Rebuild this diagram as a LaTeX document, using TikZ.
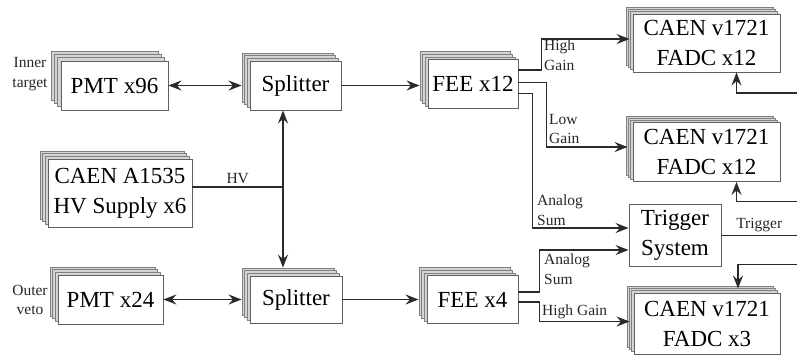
\documentclass[tikz,border=0pt]{standalone}
\usepackage{fontspec}
\setmainfont{Liberation Serif}
\usetikzlibrary{arrows.meta,shadows,calc}
\definecolor{wirec}{HTML}{2A2A2A}
\definecolor{bord}{HTML}{606060}
\definecolor{backc}{HTML}{D4D4D4}
\tikzset{
  box/.style={draw=bord, fill=white, line width=0.9pt, inner sep=0pt, align=center,
    font=\fontsize{23}{30}\selectfont},
  stk/.style={box,
    general shadow={shadow xshift=-3*#1, shadow yshift=3*#1, fill=backc, draw=bord!80, line width=0.7pt},
    general shadow={shadow xshift=-2*#1, shadow yshift=2*#1, fill=backc, draw=bord!80, line width=0.7pt},
    general shadow={shadow xshift=-#1, shadow yshift=#1, fill=backc, draw=bord!80, line width=0.7pt}},
  wire/.style={draw=wirec, line width=1.15pt},
  arr/.style={wire, -{Stealth[length=13pt,width=10pt,inset=4.5pt]}},
  darr/.style={wire, {Stealth[length=13pt,width=10pt,inset=4.5pt]}-{Stealth[length=13pt,width=10pt,inset=4.5pt]}},
  lbl/.style={font=\fontsize{15.5}{19.5}\selectfont, align=left, inner sep=0pt, text=black!85}
}
\begin{document}
\begin{tikzpicture}[x=1pt,y=-1pt]
\useasboundingbox (0,0) rectangle (797,357);
% nodes
\node[stk=3.2pt, minimum width=107pt, minimum height=49pt] (pmt96) at (114.5,85.5) {PMT x96};
\node[stk=2.6pt, minimum width=91pt, minimum height=49pt] (spl1) at (295.5,85.5) {Splitter};
\node[stk=2.6pt, minimum width=90pt, minimum height=49pt] (fee12) at (473,84) {FEE x12};
\node[stk=2.2pt, minimum width=147pt, minimum height=58pt] (caen1) at (706.5,43) {CAEN v1721\\FADC x12};
\node[stk=2.2pt, minimum width=147pt, minimum height=59pt] (caen2) at (706.5,152) {CAEN v1721\\FADC x12};
\node[box, minimum width=92pt, minimum height=62pt] (trig) at (675,235.5) {Trigger\\System};
\node[stk=2.2pt, minimum width=146pt, minimum height=61pt] (caen3) at (707,323.5) {CAEN v1721\\FADC x3};
\node[stk=2.6pt, minimum width=91pt, minimum height=48pt] (fee4) at (472.5,299.5) {FEE x4};
\node[stk=2.6pt, minimum width=92pt, minimum height=47pt] (spl2) at (296,299.5) {Splitter};
\node[stk=2.6pt, minimum width=105pt, minimum height=49pt] (pmt24) at (110.5,299.5) {PMT x24};
\node[stk=2.6pt, minimum width=144pt, minimum height=68pt] (hv) at (120,193) {CAEN A1535\\HV Supply x6};
% side labels
\node[lbl, align=center] (inner) at (30,74) {Inner\\target};
\node[lbl, align=center] (outer) at (30,300) {Outer\\veto};
% coordinates
\coordinate (hvj) at (283,187);
\coordinate (tout) at (797,235.5);
\coordinate (fb1) at (797,93);
\coordinate (fb2) at (797,201.5);
\coordinate (fb3) at (797,264.5);
% rows
\draw[darr] (pmt96.east) -- ([xshift=-8pt]spl1.west);
\draw[arr] (spl1.east) -- ([xshift=-8pt]spl1.east -| fee12.west);
\draw[darr] (pmt24.east) -- ([xshift=-8pt]spl2.west);
\draw[arr] (spl2.east) -- ([xshift=-8pt]fee4.west);
% HV
\draw[wire] ([yshift=6pt]hv.east) -- node[lbl, above=3pt] (hvl) {HV} (hvj);
\draw[arr] (hvj) -- (hvj |- spl1.south);
\draw[arr] (hvj) -- ($(hvj |- spl2.north)+(0,-8)$);
% FEE x12 outputs
\draw[arr] ($(fee12.east)+(0,-14)$) -- ++(23,0) |- ([xshift=-3pt,yshift=4pt]caen1.west);
\node[lbl, anchor=west] (hg1) at (544,55) {High\\Gain};
\draw[arr] ($(fee12.east)+(0,-1.5)$) -- ++(28,0) |- ([xshift=-5pt,yshift=5pt]caen2.west);
\node[lbl, anchor=west] (lg1) at (549,129) {Low\\Gain};
\draw[arr] ($(fee12.east)+(0,9.5)$) -- ++(14,0) |- ([yshift=7.5pt]trig.west);
\node[lbl, anchor=west] (as1) at (537,210) {Analog\\Sum};
% FEE x4 outputs
\draw[arr] ($(fee4.east)+(0,-7.5)$) -- ++(21,0) |- ([yshift=-14.5pt]trig.west);
\node[lbl, anchor=west] (as2) at (544,269) {Analog\\Sum};
\draw[arr] ($(fee4.east)+(0,2.5)$) -- ++(21,0) |- ([xshift=-4pt,yshift=2pt]caen3.west);
\node[lbl, anchor=west] (hg2) at (542,311.5) {High Gain};
% trigger out and feedback
\draw[wire] (trig.east) -- node[lbl, above=3pt] (trl) {Trigger} (tout);
\draw[arr] (fb1) -| ([xshift=30pt]caen1.south);
\draw[arr] (fb2) -| ([xshift=30pt]caen2.south);
\draw[arr] (fb3) -| ([xshift=31pt,yshift=4pt]caen3.north);
\end{tikzpicture}
\end{document}
